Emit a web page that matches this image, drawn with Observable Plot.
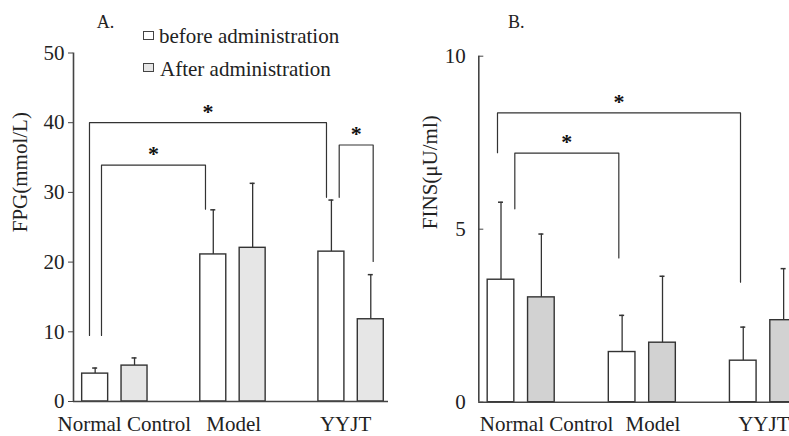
<!DOCTYPE html>
<html><head><meta charset="utf-8">
<script src="https://cdn.jsdelivr.net/npm/d3@7"></script>
<script src="https://cdn.jsdelivr.net/npm/@observablehq/plot@0.6"></script>
<style>
body{margin:0;background:#fff;}
#wrap{position:relative;width:789px;height:436px;overflow:hidden;font-family:'Liberation Serif';color:#222;}
#wrap svg{position:absolute;top:0;}
.lbl{position:absolute;white-space:nowrap;line-height:1;font-family:'Liberation Serif';}
.box{position:absolute;width:9px;height:7px;border:1px solid #444;}
</style></head><body>
<div id="wrap"></div>
<script>
const groups = ["Normal Control", "Model", "YYJT"];
const seriesNames = ["before administration", "After administration"];
const fpgBefore = [4.0, 21.1, 21.5];
const fpgBeforeSD = [0.8, 6.4, 7.4];
const fpgAfter = [5.15, 22.05, 11.8];
const fpgAfterSD = [1.1, 9.25, 6.4];
const finsBefore = [3.54, 1.45, 1.20];
const finsBeforeSD = [2.24, 1.06, 0.97];
const finsAfter = [3.03, 1.72, 2.37];
const finsAfterSD = [1.83, 1.92, 1.49];
const fpgTicks = [0, 10, 20, 30, 40, 50];
const finsTicks = [0, 5, 10];
// significance brackets: [left slot, right slot, top value, left end value, right end value]
const fpgBrackets = [[-0.144, 5.875, 40, 9.47, 29.3], [0.161, 2.802, 33.9, 9.47, 27.6], [6.198, 7.061, 36.8, 29.3, 20.1]];
const finsBrackets = [[-0.087, 5.932, 8.36, 7.21, 3.47], [0.342, 2.918, 7.2, 5.59, 4.17]];

const font = "Liberation Serif";
const wrap = document.getElementById("wrap");

function panel(cfg) {
  const bars = [];
  groups.forEach((g, i) => {
    bars.push({slot: i * 3, value: cfg.before[i], sd: cfg.beforeSD[i], fill: "#ffffff"});
    bars.push({slot: i * 3 + 1, value: cfg.after[i], sd: cfg.afterSD[i], fill: cfg.afterFill});
  });
  const brackets = cfg.brackets.map(([a, b, t, l, r], k) => ({a, b, t, l, r, k}));
  const bracketPts = brackets.flatMap(d => [
    {k: d.k, x: d.a, y: d.l}, {k: d.k, x: d.a, y: d.t}, {k: d.k, x: d.b, y: d.t}, {k: d.k, x: d.b, y: d.r}
  ]);
  const ymax = cfg.ticks[cfg.ticks.length - 1];
  const labels = groups.map((g, i) => ({g, x: i * 3 + 0.5 + cfg.labelShift[i]}));
  const hw = 0.33;
  const svg = Plot.plot({
    width: cfg.width, height: 436,
    marginLeft: cfg.marginLeft, marginRight: cfg.marginRight,
    marginTop: cfg.marginTop, marginBottom: cfg.marginBottom,
    style: {fontFamily: font, fontSize: "21px", color: "#222", background: "transparent", overflow: "visible"},
    x: {domain: [-0.55, 7.45], axis: null},
    y: {domain: [0, ymax]},
    marks: [
      Plot.line(bracketPts, {x: "x", y: "y", z: "k", stroke: "#333", strokeWidth: 1.2}),
      Plot.text(brackets, {x: d => (d.a + d.b) / 2, y: "t", text: () => "*", dy: -11, fontSize: 22, fontWeight: "bold", fill: "#111", lineAnchor: "middle"}),
      Plot.ruleX(bars, {x: "slot", y1: "value", y2: d => d.value + d.sd, stroke: "#333", strokeWidth: 1.3}),
      Plot.ruleY(bars, {y: d => d.value + d.sd, x1: "slot", x2: "slot", insetLeft: -2.5, insetRight: -2.5, stroke: "#333", strokeWidth: 1.5}),
      Plot.rect(bars, {x1: d => d.slot - hw, x2: d => d.slot + hw, y1: 0, y2: "value", fill: "fill", stroke: "#333", strokeWidth: 1.4}),
      Plot.ruleY([0], {stroke: "#444", strokeWidth: 1.6}),
      Plot.ruleX([-0.55], {y1: 0, y2: ymax, stroke: "#444", strokeWidth: 1.6}),
      Plot.axisY(cfg.ticks, {tickSize: cfg.tickSize, tickPadding: cfg.tickPadding, fontSize: 21, label: null, stroke: "#444", fill: "#222"}),
      Plot.text(labels, {x: "x", y: 0, text: "g", dy: 22.5, fontSize: 21, fill: "#222", lineAnchor: "middle"}),
      Plot.text([cfg.title], {frameAnchor: "left", dx: cfg.titleDx, dy: cfg.titleDy, rotate: -90, fontSize: 21, fill: "#222", lineAnchor: "middle"})
    ]
  });
  svg.style.left = cfg.left + "px";
  wrap.appendChild(svg);
}

panel({
  left: 0, width: 400, marginLeft: 73, marginRight: 12, marginTop: 52.5, marginBottom: 35,
  before: fpgBefore, beforeSD: fpgBeforeSD, after: fpgAfter, afterSD: fpgAfterSD,
  afterFill: "#e6e6e6", ticks: fpgTicks, tickSize: 5, tickPadding: 4,
  brackets: fpgBrackets, labelShift: [0.24, 0.02, -0.14],
  title: "FPG(mmol/L)", titleDx: -53, titleDy: 5
});
panel({
  left: 400, width: 412, marginLeft: 78.3, marginRight: 10.7, marginTop: 55.7, marginBottom: 34.3,
  before: finsBefore, beforeSD: finsBeforeSD, after: finsAfter, afterSD: finsAfterSD,
  afterFill: "#d2d2d2", ticks: finsTicks, tickSize: -5, tickPadding: 18,
  brackets: finsBrackets, labelShift: [0.63, 0.265, 0.01],
  title: "FINS(μU/ml)", titleDx: -48.6, titleDy: 0
});

function addText(txt, left, baseline, size) {
  const s = document.createElement("div");
  s.className = "lbl";
  s.textContent = txt;
  s.style.left = left + "px";
  s.style.top = (baseline - 0.8375 * size) + "px";
  s.style.fontSize = size + "px";
  wrap.appendChild(s);
}
function addBox(left, top, fill) {
  const b = document.createElement("div");
  b.className = "box";
  b.style.left = left + "px";
  b.style.top = top + "px";
  b.style.background = fill;
  wrap.appendChild(b);
}
addText("A.", 96.7, 28.3, 18);
addText("B.", 508, 28, 18);
addBox(143, 31, "#ffffff");
addText(seriesNames[0], 159, 43.3, 21);
addBox(143, 63, "#e6e6e6");
addText(seriesNames[1], 160, 76.7, 21);
</script>
</body></html>
